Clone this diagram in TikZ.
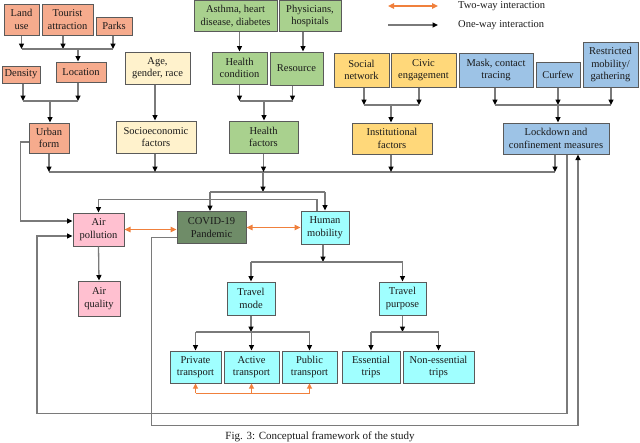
\documentclass[tikz,border=0pt]{standalone}
\usepackage{fontspec}
\setmainfont{Liberation Serif}
\usetikzlibrary{arrows.meta}
\definecolor{salmon}{HTML}{F6AB8D}
\definecolor{lyel}{HTML}{FFF2CC}
\definecolor{hgreen}{HTML}{A9D18E}
\definecolor{inst}{HTML}{FFD87A}
\definecolor{lblue}{HTML}{9DC3E6}
\definecolor{lpink}{HTML}{FFC0D0}
\definecolor{covidg}{HTML}{6F8C68}
\definecolor{lcyan}{HTML}{A0FFFF}
\definecolor{boxline}{HTML}{5A5A5A}
\definecolor{conn}{HTML}{7A7A7A}
\definecolor{twoc}{HTML}{F0803C}
\definecolor{txt}{HTML}{1A1A1A}
\begin{document}
\begin{tikzpicture}[x=1pt,y=-1pt,
  bx/.style={draw=boxline, line width=1pt, inner sep=1pt, align=center,
    font=\fontsize{10.5}{12.5}\selectfont, text=txt},
  ln/.style={draw=conn, line width=1.3pt},
  ar/.style={ln, -{Triangle[length=5.5pt,width=5pt,color=black]}},
  tw/.style={draw=twoc, line width=1.3pt,
    {Triangle[length=6pt,width=5.5pt]}-{Triangle[length=6pt,width=5.5pt]}},
  oln/.style={draw=twoc, line width=1pt},
  oar/.style={oln, -{Triangle[length=5pt,width=5pt]}},
  lab/.style={font=\fontsize{10.5}{12.5}\selectfont, text=txt, inner sep=0pt, anchor=west}
]
\useasboundingbox (0,0) rectangle (640,442);

% ---------- top row: urban form ----------
\node[bx, fill=salmon, minimum width=35pt, minimum height=31pt] (land) at (21.5,19.5) {Land\\use};
\node[bx, fill=salmon, minimum width=51pt, minimum height=31pt] (tour) at (67.5,19.5) {Tourist\\attraction};
\node[bx, fill=salmon, minimum width=36pt, minimum height=18pt] (parks) at (114,26) {Parks};
\node[bx, fill=salmon, minimum width=38pt, minimum height=17pt] (dens) at (21,74.5) {Density};
\node[bx, fill=salmon, minimum width=50pt, minimum height=20pt] (loc) at (81,72) {Location};
\node[bx, fill=salmon, minimum width=40pt, minimum height=30pt] (urban) at (49,138) {Urban\\form};

% ---------- socioeconomic ----------
\node[bx, fill=lyel, minimum width=65pt, minimum height=32pt] (age) at (157.5,68) {Age,\\gender, race};
\node[bx, fill=lyel, minimum width=80pt, minimum height=32pt] (socio) at (156,137) {Socioeconomic\\factors};

% ---------- health ----------
\node[bx, fill=hgreen, minimum width=83pt, minimum height=31pt] (asth) at (235.5,16) {Asthma, heart\\disease, diabetes};
\node[bx, fill=hgreen, minimum width=62pt, minimum height=31pt] (phys) at (310,16) {Physicians,\\hospitals};
\node[bx, fill=hgreen, minimum width=55pt, minimum height=32pt] (hcond) at (239.5,68) {Health\\condition};
\node[bx, fill=hgreen, minimum width=53pt, minimum height=33pt] (res) at (296.5,68.5) {Resource};
\node[bx, fill=hgreen, minimum width=69pt, minimum height=32pt] (hfac) at (263.5,137) {Health\\factors};

% ---------- institutional ----------
\node[bx, fill=inst, minimum width=55pt, minimum height=34pt] (soc) at (361.5,70) {Social\\network};
\node[bx, fill=inst, minimum width=65pt, minimum height=34pt] (civ) at (423.5,70) {Civic\\engagement};
\node[bx, fill=inst, minimum width=80pt, minimum height=31pt] (instf) at (392,138.5) {Institutional\\factors};

% ---------- lockdown ----------
\node[bx, fill=lblue, minimum width=74pt, minimum height=34pt] (mask) at (496,70) {Mask, contact\\tracing};
\node[bx, fill=lblue, minimum width=44pt, minimum height=25pt] (curf) at (558,74.5) {Curfew};
\node[bx, fill=lblue, minimum width=55pt, minimum height=45pt] (restr) at (610.5,64.5) {Restricted\\mobility/\\gathering};
\node[bx, fill=lblue, minimum width=106pt, minimum height=31pt] (lock) at (556,138.5) {Lockdown and\\confinement measures};

% ---------- middle ----------
\node[bx, fill=lpink, minimum width=51pt, minimum height=33pt] (airp) at (98.5,229.5) {Air\\pollution};
\node[bx, fill=covidg, minimum width=69pt, minimum height=32pt] (covid) at (211.5,227.5) {COVID-19\\Pandemic};
\node[bx, fill=lcyan, minimum width=48pt, minimum height=33pt] (mob) at (325,227.5) {Human\\mobility};
\node[bx, fill=lpink, minimum width=42pt, minimum height=35pt] (airq) at (99,298.5) {Air\\quality};
\node[bx, fill=lcyan, minimum width=48pt, minimum height=33pt] (tmode) at (251,298.5) {Travel\\mode};
\node[bx, fill=lcyan, minimum width=47pt, minimum height=33pt] (tpur) at (402.5,298.5) {Travel\\purpose};

% ---------- bottom ----------
\node[bx, fill=lcyan, minimum width=51pt, minimum height=32pt] (priv) at (195.5,367) {Private\\transport};
\node[bx, fill=lcyan, minimum width=55pt, minimum height=32pt] (act) at (251.5,367) {Active\\transport};
\node[bx, fill=lcyan, minimum width=55pt, minimum height=32pt] (pub) at (309.5,367) {Public\\transport};
\node[bx, fill=lcyan, minimum width=58pt, minimum height=32pt] (ess) at (371,367) {Essential\\trips};
\node[bx, fill=lcyan, minimum width=71pt, minimum height=32pt] (ness) at (438.5,367) {Non-essential\\trips};

% ---------- legend ----------
\coordinate (l1a) at (388,6);
\coordinate (l1b) at (438,6);
\coordinate (l2a) at (388,25);
\coordinate (l2b) at (438,25);
\draw[tw] (l1a) -- (l1b);
\draw[ar] (l2a) -- (l2b);
\node[lab] (lt1) at (458,6) {Two-way interaction};
\node[lab] (lt2) at (458,25) {One-way interaction};

% ---------- connectors: urban ----------
\coordinate (b1) at (78,49);
\draw[ar] (land.south) -- (land.south |- b1);
\draw[ar] ([xshift=-4.5pt]tour.south) -- ([xshift=-4.5pt]tour.south |- b1);
\draw[ar] ([xshift=-1pt]parks.south) -- ([xshift=-1pt]parks.south |- b1);
\draw[ln] (land.south |- b1) -- ([xshift=-1pt]parks.south |- b1);
\draw[ar] (b1) -- (b1 |- loc.north);
\coordinate (b2) at (50,101);
\draw[ar] ([xshift=2pt]dens.south) -- ([xshift=2pt]dens.south |- b2);
\draw[ar] ([xshift=-3pt]loc.south) -- ([xshift=-3pt]loc.south |- b2);
\draw[ln] ([xshift=2pt]dens.south |- b2) -- ([xshift=-3pt]loc.south |- b2);
\draw[ar] (b2) -- (b2 |- urban.north);

% ---------- socio ----------
\draw[ar] ([xshift=-2.5pt]age.south) -- ([xshift=-2.5pt]age.south |- socio.north);

% ---------- health ----------
\draw[ar] (hcond.north |- asth.south) -- (hcond.north);
\draw[ar] ([xshift=-7pt]phys.south) -- ([xshift=-7pt]phys.south |- res.north);
\coordinate (b3) at (264,101);
\draw[ar] (hcond.south) -- (hcond.south |- b3);
\draw[ar] ([xshift=-4pt]res.south) -- ([xshift=-4pt]res.south |- b3);
\draw[ln] (hcond.south |- b3) -- ([xshift=-4pt]res.south |- b3);
\draw[ar] (b3) -- (b3 |- hfac.north);

% ---------- institutional ----------
\coordinate (b4) at (391,105);
\draw[ar] ([xshift=2.5pt]soc.south) -- ([xshift=2.5pt]soc.south |- b4);
\draw[ar] ([xshift=-4.5pt]civ.south) -- ([xshift=-4.5pt]civ.south |- b4);
\draw[ln] ([xshift=2.5pt]soc.south |- b4) -- ([xshift=-4.5pt]civ.south |- b4);
\draw[ar] (b4) -- (b4 |- instf.north);

% ---------- lockdown ----------
\coordinate (b5) at (558,105);
\draw[ar] ([xshift=-1pt]mask.south) -- ([xshift=-1pt]mask.south |- b5);
\draw[ar] (curf.south) -- (curf.south |- b5);
\draw[ln] ([xshift=-1pt]mask.south |- b5) -- ([xshift=0.5pt]restr.south |- b5);
\draw[ar] ([xshift=0.5pt]restr.south) -- ([xshift=0.5pt]restr.south |- b5);
\draw[ar] (b5) -- (b5 |- lock.north);

% ---------- main bus ----------
\coordinate (mb) at (263,172);
\draw[ln] (urban.south |- mb) -- ([xshift=-1pt]lock.south |- mb);
\draw[ar] (urban.south) -- (urban.south |- mb);
\draw[ar] ([xshift=-1pt]socio.south) -- ([xshift=-1pt]socio.south |- mb);
\draw[ar] (hfac.south) -- (hfac.south |- mb);
\draw[ar] ([xshift=-1pt]instf.south) -- ([xshift=-1pt]instf.south |- mb);
\draw[ar] ([xshift=-1pt]lock.south) -- ([xshift=-1pt]lock.south |- mb);
\coordinate (cb) at (263,192);
\draw[ar] (mb) -- (cb);
\draw[ln] ([xshift=-1.5pt]covid.north |- cb) -- (mob.north |- cb);
\draw[ar] ([xshift=-1.5pt]covid.north |- cb) -- ([xshift=-1.5pt]covid.north);
\draw[ar] (mob.north |- cb) -- (mob.north);

% ---------- feedbacks into air pollution ----------
\draw[ar] ([xshift=-8pt]mob.north) -- ++(0,-11) -| (airp.north);
\draw[ar] ([yshift=-4pt]urban.west) -- ++(-8,0) |- ([yshift=8.5pt]airp.west);
\draw[ar] ([xshift=11pt]lock.south) -- ++(0,259) -- ++(-530,0) |- ([yshift=-6.5pt]airp.west);
\draw[ar] ([yshift=-10pt]covid.west) -- ++(-25,0) -- ++(0,188) -| ([xshift=22pt]lock.south);

% ---------- two-way ----------
\draw[tw] (airp.east) -- (airp.east -| covid.west);
\draw[tw] (covid.east) -- (covid.east -| mob.west);

\draw[ar] (airp.south) -- (airq.north);

% ---------- mobility tree ----------
\coordinate (b6) at (323,262);
\draw[ar] ([xshift=-2pt]mob.south) -- ([xshift=-2pt]mob.south |- b6);
\draw[ln] (tmode.north |- b6) -- (tpur.north |- b6);
\draw[ar] (tmode.north |- b6) -- (tmode.north);
\draw[ar] (tpur.north |- b6) -- (tpur.north);

\coordinate (b7) at (251,332);
\draw[ar] (tmode.south) -- (tmode.south |- b7);
\draw[ln] (priv.north |- b7) -- (pub.north |- b7);
\draw[ar] (priv.north |- b7) -- (priv.north);
\draw[ar] (act.north |- b7) -- (act.north);
\draw[ar] (pub.north |- b7) -- (pub.north);

\coordinate (b8) at (403,332);
\draw[ar] (tpur.south) -- (tpur.south |- b8);
\draw[ln] (ess.north |- b8) -- (ness.north |- b8);
\draw[ar] (ess.north |- b8) -- (ess.north);
\draw[ar] (ness.north |- b8) -- (ness.north);

\coordinate (ob) at (251,393);
\draw[oln] (priv.south |- ob) -- (pub.south |- ob);
\draw[oar] (priv.south |- ob) -- (priv.south);
\draw[oar] (act.south |- ob) -- (act.south);
\draw[oar] (pub.south |- ob) -- (pub.south);

% ---------- caption ----------
\node[font=\fontsize{11}{13}\selectfont, text=txt, anchor=base, inner sep=0pt] (cap) at (320,439) {Fig. 3: Conceptual framework of the study};
\end{tikzpicture}
\end{document}
